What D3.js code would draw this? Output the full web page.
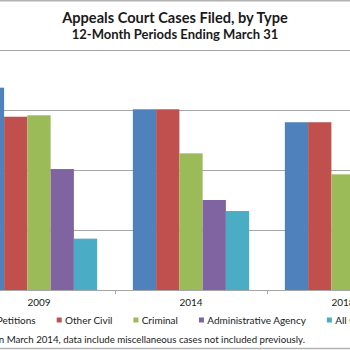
<!DOCTYPE html>
<html lang="en">
<head>
    <meta charset="UTF-8">
    <title>Appeals Court Cases Filed, by Type</title>
    <script src="https://d3js.org/d3.v7.min.js"></script>
    <style>
        body { margin: 0; background: #fff; overflow: hidden; font-family: Lato, "Open Sans", sans-serif; }
        .grid line { stroke: #a6a6a6; stroke-width: 1px; }
        .frame { stroke: #b3b3b3; stroke-width: 1.5px; }
        text { fill: #1a1a1a; }
    </style>
</head>
<body>
    <div id="chart"></div>
    <script>
        const years = ["2009", "2014", "2018"];
        const seriesNames = ["Prisoner Petitions", "Other Civil", "Criminal", "Administrative Agency", "All Other"];
        const colors = ["#4f81bd", "#c0504d", "#9bbb59", "#8064a2", "#4bacc6"];
        // values per year, same order as seriesNames
        const prisonerPetitions = [16860, 15060, 13980];
        const otherCivil = [14440, 15060, 13980];
        const criminal = [14560, 11390, 9640];
        const adminAgency = [10080, 7500, 6900];
        const allOther = [4280, 6580, 6200];
        const yTicks = [0, 5000, 10000, 15000, 20000];

        const width = 350, height = 350;
        const svg = d3.select("#chart").append("svg")
            .attr("width", width)
            .attr("height", height);

        // frame lines
        svg.append("line").attr("class", "frame")
            .attr("x1", 0).attr("x2", width).attr("y1", 0.75).attr("y2", 0.75);
        svg.append("line").attr("class", "frame")
            .attr("x1", 0).attr("x2", width).attr("y1", 348.5).attr("y2", 348.5);

        svg.append("text")
            .attr("x", 175).attr("y", 22.5)
            .attr("text-anchor", "middle")
            .style("font-size", "14.6px").style("font-weight", "bold")
            .text("Appeals Court Cases Filed, by Type");
        svg.append("text")
            .attr("x", 175).attr("y", 39)
            .attr("text-anchor", "middle")
            .style("font-size", "13px").style("font-weight", "bold")
            .text("12-Month Periods Ending March 31");

        const x = d3.scaleBand().domain(years).range([-37, 419]);
        const xInner = d3.scaleBand().domain(seriesNames).range([0, 116.3]);
        const pad = (x.bandwidth() - 116.3) / 2;
        const y = d3.scaleLinear().domain([0, 20000]).range([290, 50]);

        svg.append("g").attr("class", "grid")
            .selectAll("line").data(yTicks.slice(1)).join("line")
            .attr("x1", 0).attr("x2", width)
            .attr("y1", d => Math.round(y(d)) + 0.5).attr("y2", d => Math.round(y(d)) + 0.5);

        const rows = [prisonerPetitions, otherCivil, criminal, adminAgency, allOther];
        const bars = [];
        years.forEach((yr, i) => {
            seriesNames.forEach((s, j) => bars.push({ year: yr, series: s, color: colors[j], value: rows[j][i] }));
        });

        svg.append("g").selectAll("rect").data(bars).join("rect")
            .attr("x", d => x(d.year) + pad + xInner(d.series))
            .attr("width", xInner.bandwidth())
            .attr("y", d => y(d.value))
            .attr("height", d => y(0) - y(d.value))
            .attr("fill", d => d.color);

        const xAxis = svg.append("g")
            .attr("transform", "translate(0,290)")
            .call(d3.axisBottom(x).tickSize(0).tickPadding(9));
        xAxis.select(".domain").attr("stroke", "#a6a6a6").attr("d", "M0,0.5H350");
        xAxis.selectAll("text").style("font-size", "10px").attr("fill", "#1a1a1a").style("font-family", "Lato");
        // tick marks between categories
        svg.append("g").selectAll("line").data(years.slice(1)).join("line")
            .attr("x1", d => Math.round(x(d)) + 0.5).attr("x2", d => Math.round(x(d)) + 0.5)
            .attr("y1", 290).attr("y2", 294)
            .attr("stroke", "#a6a6a6");

        // legend
        const legend = svg.append("g").attr("transform", "translate(0,323.5)");
        const items = legend.selectAll("g").data(seriesNames).join("g");
        items.append("rect").attr("width", 5).attr("height", 5).attr("y", -6)
            .attr("fill", (d, i) => colors[i]);
        items.append("text").attr("x", 8.3).style("font-size", "10px").text(d => d);
        let cx = 0;
        const offsets = [];
        items.each(function () {
            offsets.push(cx);
            cx += 8.3 + d3.select(this).select("text").node().getComputedTextLength() + 21;
        });
        const shift = 56.7 - offsets[1];
        items.attr("transform", (d, i) => `translate(${offsets[i] + shift},0)`);

        svg.append("text")
            .attr("x", 305).attr("y", 343)
            .attr("text-anchor", "end")
            .style("font-size", "9.7px")
            .text("Note: Beginning in March 2014, data include miscellaneous cases not included previously.");
    </script>
</body>
</html>
